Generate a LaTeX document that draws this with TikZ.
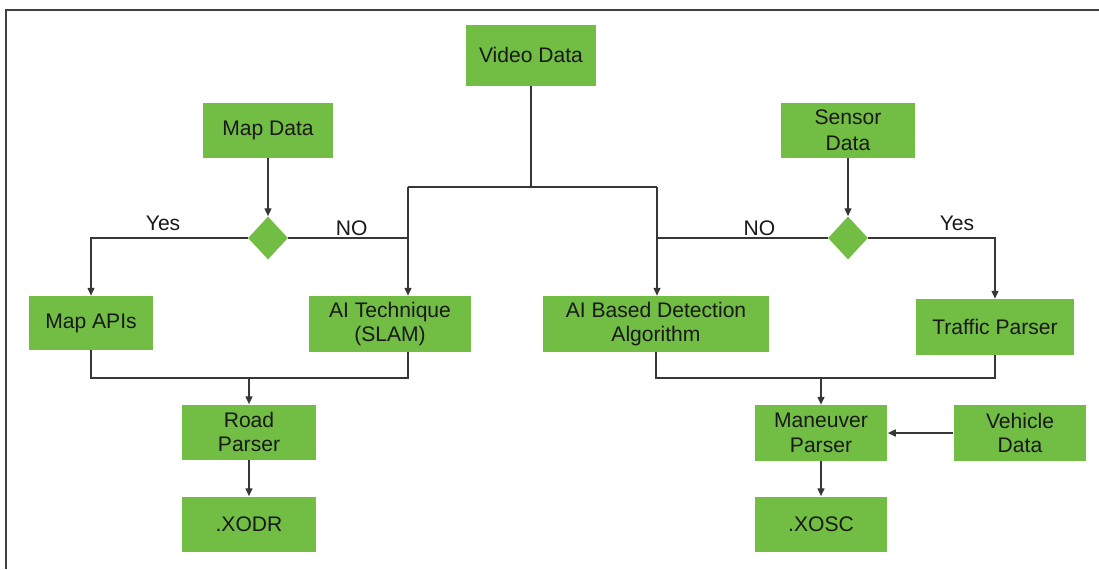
\documentclass[tikz,border=0pt]{standalone}
\usepackage{fontspec}
\setmainfont{Liberation Sans}
\usepackage{tikz}
\usetikzlibrary{shapes.geometric,arrows.meta,positioning,calc}
\definecolor{boxgreen}{RGB}{114,189,68}
\definecolor{linegray}{RGB}{55,55,55}

\begin{document}
\begin{tikzpicture}[x=0.02cm,y=-0.02cm,
  box/.style={fill=boxgreen,inner sep=0pt,align=center,text=black!90,
    font=\fontsize{12}{14}\selectfont},
  decision/.style={diamond,fill=boxgreen,inner sep=0pt,minimum width=0.8cm,minimum height=0.86cm},
  link/.style={draw=linegray,line width=0.8pt},
  arr/.style={link,-{Triangle[length=4.5pt,width=4pt]}},
  lbl/.style={font=\fontsize{12}{14}\selectfont,text=black!90,inner sep=0pt,anchor=base}]
\useasboundingbox (0,0) rectangle (1099,569);
% frame
\draw[line width=1pt,black!75] (6,569) -- (6,10) -- (1099,10);

% inputs
\node[box,minimum width=2.62cm,minimum height=1.22cm] (video) at (531,55) {Video Data};
\node[box,minimum width=2.6cm,minimum height=1.1cm] (mapdata) at (268,130) {Map Data};
\node[box,minimum width=2.68cm,minimum height=1.1cm] (sensor) at (848,130) {Sensor\\[1pt]Data};
\node[decision] (mapdec) at (268,238) {};
\node[decision] (sensdec) at (848,238) {};

% processing
\node[box,minimum width=2.48cm,minimum height=1.08cm] (mapapi) at (91,323) {Map APIs};
\node[box,minimum width=3.26cm,minimum height=1.12cm] (slam) at (390,324) {AI Technique\\(SLAM)};
\node[box,minimum width=4.54cm,minimum height=1.12cm] (detect) at (656,324) {AI Based Detection\\Algorithm};
\node[box,minimum width=3.18cm,minimum height=1.12cm] (traffic) at (995,327) {Traffic Parser};

% parsers and outputs
\node[box,minimum width=2.68cm,minimum height=1.1cm] (road) at (249,432) {Road\\Parser};
\node[box,minimum width=2.68cm,minimum height=1.1cm] (xodr) at (249,524) {.XODR};
\node[box,minimum width=2.66cm,minimum height=1.12cm] (maneuver) at (821,433) {Maneuver\\Parser};
\node[box,minimum width=2.66cm,minimum height=1.12cm] (vehicle) at (1020,433) {Vehicle\\Data};
\node[box,minimum width=2.66cm,minimum height=1.1cm] (xosc) at (821,524) {.XOSC};

% junction points
\coordinate (jl) at (408,187);
\coordinate (jr) at (657,187);
\coordinate (ml) at (249,378);
\coordinate (mr) at (821,378);

% video split
\draw[link] (video.south) -- (video.south |- jl);
\draw[link] (jl) -- (jr);
\draw[arr] (jl) -- (jl |- slam.north);
\draw[arr] (jr) -- (jr |- detect.north);

% map branch
\draw[arr] (mapdata.south) -- (mapdec.north);
\draw[link] (mapdec.east) -- (mapdec.east -| jl) node[lbl,pos=0.53,yshift=1.5pt] {NO};
\draw[arr] (mapdec.west) -| (mapapi.north) node[lbl,pos=0.27,yshift=4.5pt] {Yes};

% sensor branch
\draw[arr] (sensor.south) -- (sensdec.north);
\draw[link] (sensdec.west) -- (sensdec.west -| jr) node[lbl,pos=0.4,yshift=1.5pt] {NO};
\draw[arr] (sensdec.east) -| (traffic.north) node[lbl,pos=0.35,yshift=4.5pt] {Yes};

% merges
\draw[link] (mapapi.south) |- (ml) -| (slam.south -| jl);
\draw[arr] (ml) -- (road.north);
\draw[link] (detect.south) |- (mr) -| (traffic.south);
\draw[arr] (mr) -- (maneuver.north);
\draw[arr] (vehicle.west) -- (maneuver.east);

% outputs
\draw[arr] (road) -- (xodr);
\draw[arr] (maneuver) -- (xosc);
\end{tikzpicture}
\end{document}
